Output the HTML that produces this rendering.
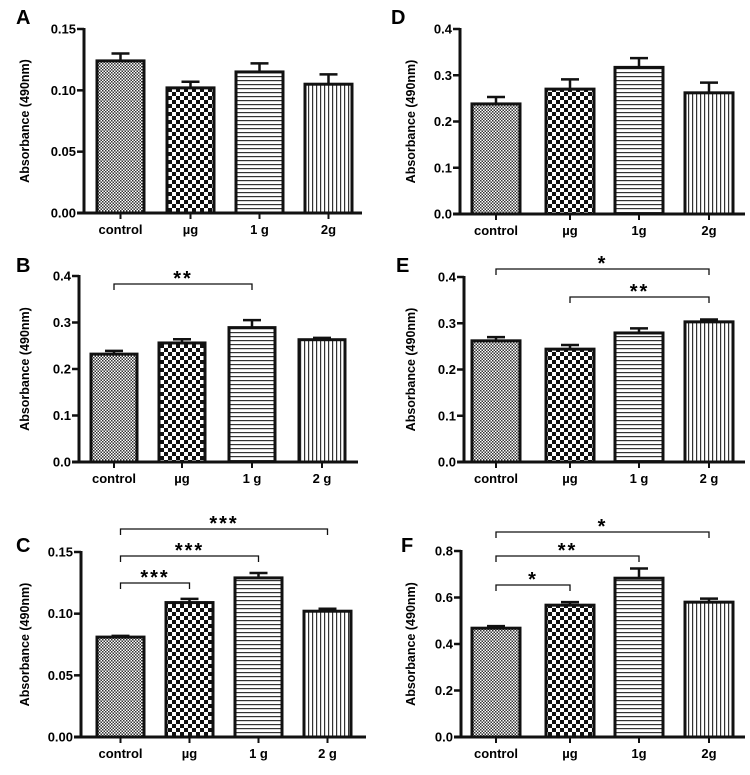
<!DOCTYPE html>
<html><head><meta charset="utf-8"><style>
body{margin:0;background:#fff;}
svg{display:block;font-family:"Liberation Sans",Arial,sans-serif;font-weight:bold;}
</style></head><body>
<svg id="fig" width="750" height="775" viewBox="0 0 750 775" xmlns="http://www.w3.org/2000/svg">
<defs>
<pattern id="pDot" width="3" height="3" patternUnits="userSpaceOnUse"><rect width="3" height="3" fill="#fff"/><rect width="1.5" height="1.5" fill="#333"/><rect x="1.5" y="1.5" width="1.5" height="1.5" fill="#333"/></pattern>
<pattern id="pChk" width="8" height="8" patternUnits="userSpaceOnUse"><rect width="8" height="8" fill="#fff"/><rect width="4" height="4" fill="#111"/><rect x="4" y="4" width="4" height="4" fill="#111"/></pattern>
<pattern id="pHor" width="4" height="4" patternUnits="userSpaceOnUse"><rect width="4" height="4" fill="#fff"/><rect y="0" width="4" height="1.2" fill="#333"/></pattern>
<pattern id="pVer" width="4" height="4" patternUnits="userSpaceOnUse"><rect width="4" height="4" fill="#fff"/><rect x="0" width="1.2" height="4" fill="#333"/></pattern>
</defs>
</svg>
<script>
const catsA=["control","µg","1 g","2g"], meanA=[0.124,0.102,0.115,0.105], errA=[0.130,0.107,0.122,0.113], ticksA=["0.00","0.05","0.10","0.15"];
const catsB=["control","µg","1 g","2 g"], meanB=[0.232,0.256,0.289,0.263], errB=[0.239,0.264,0.305,0.267], ticksB=["0.0","0.1","0.2","0.3","0.4"];
const catsC=["control","µg","1 g","2 g"], meanC=[0.081,0.109,0.129,0.102], errC=[0.082,0.112,0.133,0.104], ticksC=["0.00","0.05","0.10","0.15"];
const catsD=["control","µg","1g","2g"], meanD=[0.238,0.270,0.317,0.262], errD=[0.253,0.291,0.337,0.284], ticksD=["0.0","0.1","0.2","0.3","0.4"];
const catsE=["control","µg","1 g","2 g"], meanE=[0.262,0.244,0.279,0.303], errE=[0.270,0.253,0.289,0.308], ticksE=["0.0","0.1","0.2","0.3","0.4"];
const catsF=["control","µg","1g","2g"], meanF=[0.468,0.567,0.683,0.580], errF=[0.477,0.580,0.725,0.595], ticksF=["0.0","0.2","0.4","0.6","0.8"];
const sigB=[[0,2,"**"]], sigC=[[0,3,"***"],[0,2,"***"],[0,1,"***"]], sigE=[[0,3,"*"],[1,3,"**"]], sigF=[[0,3,"*"],[0,2,"**"],[0,1,"*"]];

const svg=document.getElementById('fig');
const NS="http://www.w3.org/2000/svg";
const fills=["url(#pDot)","url(#pChk)","url(#pHor)","url(#pVer)"];
function mk(tag,attrs,parent){const e=document.createElementNS(NS,tag);for(const k in attrs)e.setAttribute(k,attrs[k]);(parent||svg).appendChild(e);return e;}

function panel(o){
  const g=mk('g',{});
  
  
  const y=v=>o.y0-(v/o.max)*(o.y0-o.yTop);
  const t=mk('text',{x:o.lx,y:o.ly,'font-size':20},g);t.textContent=o.letter;
  
  
  const yt=mk('text',{x:0,y:0,'font-size':12.5,'text-anchor':'middle',transform:`translate(${o.tx},${(o.y0+o.yTop)/2}) rotate(-90)`},g);
  yt.textContent="Absorbance (490nm)";
  
  
  // bars
  o.cats.forEach((c,i)=>{
    const x0=o.bx[i], w=o.bw, cx=x0+w/2;
    const ev=y(o.err[i]), mv=y(o.mean[i]);
    const eb=mk('line',{x1:cx,x2:cx,y1:mv,y2:ev,stroke:'#111','stroke-width':2.5},g);
    
    
    const cap=mk('line',{x1:cx-9,x2:cx+9,y1:ev,y2:ev,stroke:'#111','stroke-width':2.5},g);
    
    
    const r=mk('rect',{x:x0,y:mv,width:w,height:o.y0-mv,fill:fills[i],stroke:'#111','stroke-width':3},g);
    
    
    mk('line',{x1:cx,x2:cx,y1:o.y0,y2:o.y0+6,stroke:'#111','stroke-width':2},g);
    const lb=mk('text',{x:cx,y:o.y0+21,'font-size':13,'text-anchor':'middle'},g);lb.textContent=c;
    
    
  });
  // axes
  const ya=mk('line',{x1:o.ax,x2:o.ax,y1:o.yTop-1,y2:o.y0+1.5,stroke:'#111','stroke-width':3},g);
  
  
  const xa=mk('line',{x1:o.ax-7,x2:o.axEnd,y1:o.y0,y2:o.y0,stroke:'#111','stroke-width':3},g);
  
  
  o.ticks.forEach(tk=>{
    const ty=y(parseFloat(tk));
    mk('line',{x1:o.ax-7,x2:o.ax,y1:ty,y2:ty,stroke:'#111','stroke-width':2.5},g);
    const tl=mk('text',{x:o.ax-8,y:ty+4.5,'font-size':13,'text-anchor':'end'},g);tl.textContent=tk;
    
    
  });
  (o.sig||[]).forEach((s,k)=>{
    const by=o.sigY[k], x1=o.bx[s[0]]+o.bw/2, x2=o.bx[s[1]]+o.bw/2;
    const p=mk('path',{d:`M${x1} ${by+6}V${by}H${x2}V${by+6}`,fill:'none',stroke:'#111','stroke-width':1.3},g);
    
    
    const st=mk('text',{x:(x1+x2)/2,y:by+1,'font-size':20,'text-anchor':'middle','letter-spacing':'2'},g);st.textContent=s[2];
    
    
  });
}
const Lx=[97,167,236,305], Rx=[472,546,615,685];
panel({letter:"A",lx:16,ly:24,tx:29,ax:84,axEnd:362,y0:213,yTop:29,max:0.15,bx:Lx,bw:47,cats:catsA,mean:meanA,err:errA,ticks:ticksA});
panel({letter:"B",lx:16,ly:272,tx:29,ax:79,axEnd:358,y0:462,yTop:276,max:0.4,bx:[91,159,229,299],bw:46,cats:catsB,mean:meanB,err:errB,ticks:ticksB,sig:sigB,sigY:[284]});
panel({letter:"C",lx:16,ly:552,tx:29,ax:81,axEnd:366,y0:737,yTop:552,max:0.15,bx:[97,166,235,304],bw:47,cats:catsC,mean:meanC,err:errC,ticks:ticksC,sig:sigC,sigY:[529,556,583]});
panel({letter:"D",lx:391,ly:24,tx:415,ax:460,axEnd:745,y0:214,yTop:29,max:0.4,bx:Rx,bw:48,cats:catsD,mean:meanD,err:errD,ticks:ticksD});
panel({letter:"E",lx:396,ly:272,tx:415,ax:464,axEnd:745,y0:462,yTop:277,max:0.4,bx:Rx,bw:48,cats:catsE,mean:meanE,err:errE,ticks:ticksE,sig:sigE,sigY:[269,297]});
panel({letter:"F",lx:401,ly:552,tx:415,ax:461,axEnd:745,y0:737,yTop:551,max:0.8,bx:Rx,bw:48,cats:catsF,mean:meanF,err:errF,ticks:ticksF,sig:sigF,sigY:[532,556,585]});
</script>
</body></html>
